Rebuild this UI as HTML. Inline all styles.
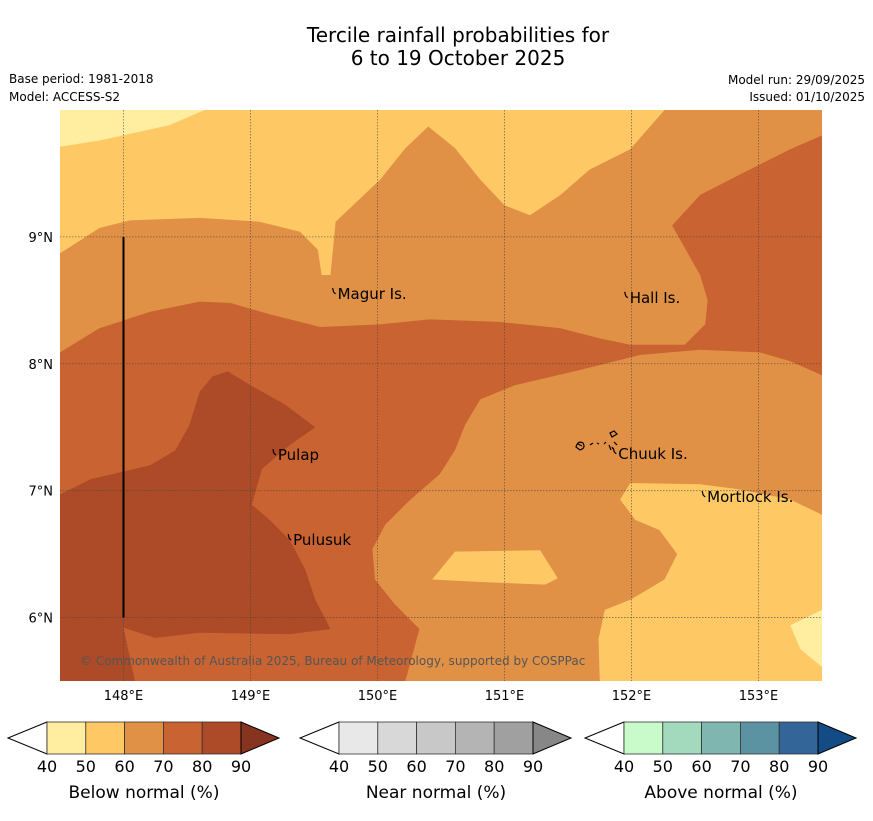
<!DOCTYPE html>
<html><head><meta charset="utf-8"><style>
body{margin:0;background:#fff;width:873px;height:816px;overflow:hidden;font-family:"Liberation Sans","DejaVu Sans",sans-serif}
</style></head><body>
<svg id="s" width="873" height="816" xmlns="http://www.w3.org/2000/svg" font-family="DejaVu Sans, Liberation Sans, sans-serif">
<text x="458" y="42" text-anchor="middle" font-size="20">Tercile rainfall probabilities for</text>
<text x="458" y="65" text-anchor="middle" font-size="20">6 to 19 October 2025</text>
<text x="9" y="83" font-size="12">Base period: 1981-2018</text>
<text x="9" y="101" font-size="12">Model: ACCESS-S2</text>
<text x="865" y="84" font-size="12" text-anchor="end">Model run: 29/09/2025</text>
<text x="865" y="101" font-size="12" text-anchor="end">Issued: 01/10/2025</text>
<defs><clipPath id="mc"><rect x="60" y="110" width="762" height="571"/></clipPath></defs>
<g id="map" clip-path="url(#mc)"></g>
<g id="cbars"></g>
</svg>
<script>
const NS="http://www.w3.org/2000/svg";
const lonMin=147.5,lonMax=153.5,latMin=5.5,latMax=10.0;
const X0=60,X1=822,Y0=110,Y1=681;
function xs(lon){return X0+(lon-lonMin)/(lonMax-lonMin)*(X1-X0);}
function ys(lat){return Y1-(lat-latMin)/(latMax-latMin)*(Y1-Y0);}
const levelColors=["#ffeda0","#fec965","#e09146","#c96331","#ad4a27"];
const yellowBaseLon=[147.5,153.5,153.5,147.5];
const yellowBaseLat=[10,10,5.5,5.5];
const light1Lon=[147.5,148.64,148.36,147.81,147.5];
const light1Lat=[10,10,9.88,9.76,9.71];
const orangeLon=[147.5,147.81,148.05,148.6,149.07,149.39,149.53,149.56,149.63,149.67,150.02,150.22,150.4,150.61,150.81,151.0,151.2,151.44,151.67,151.99,152.26,153.5,153.5,153.25,152.85,152.54,151.99,151.91,152.03,152.22,152.36,152.26,151.99,151.79,151.74,151.75,147.5];
const orangeLat=[8.87,9.07,9.13,9.15,9.12,9.04,8.9,8.7,8.7,9.12,9.45,9.7,9.87,9.7,9.45,9.25,9.17,9.33,9.53,9.69,10.0,10.0,6.81,6.93,7.01,7.05,7.06,6.93,6.77,6.69,6.5,6.3,6.14,6.06,5.83,5.5,5.5];
const yellowBlobLon=[150.43,150.61,151.28,151.42,151.32,150.81];
const yellowBlobLat=[6.30,6.52,6.53,6.31,6.26,6.28];
const light2Lon=[153.5,153.25,153.33,153.5];
const light2Lat=[6.06,5.94,5.75,5.61];
const darkLon=[147.5,147.81,148.21,148.6,148.84,149.15,149.55,150.02,150.41,150.96,151.44,151.75,151.99,152.42,152.58,152.6,152.54,152.32,152.54,152.85,153.25,153.5,153.5,153.25,153.01,152.54,152.07,151.59,151.08,150.81,150.69,150.61,150.49,150.26,150.06,149.96,149.98,150.14,150.33,150.22,147.5];
const darkLat=[8.09,8.28,8.41,8.49,8.48,8.39,8.29,8.31,8.35,8.33,8.28,8.2,8.15,8.15,8.31,8.5,8.7,9.09,9.33,9.49,9.69,9.8,7.91,8.02,8.09,8.11,8.07,7.95,7.83,7.72,7.52,7.32,7.13,6.93,6.73,6.54,6.3,6.1,5.91,5.5,5.5];
const brownLon=[147.5,147.74,148.21,148.41,148.52,148.6,148.7,148.82,149.0,149.27,149.51,149.31,149.09,149.01,149.15,149.31,149.43,149.51,149.63,149.31,148.6,148.25,148.0,148.09,147.5];
const brownLat=[6.97,7.09,7.2,7.32,7.52,7.78,7.9,7.94,7.83,7.68,7.5,7.36,7.17,6.89,6.77,6.61,6.38,6.14,5.91,5.87,5.88,5.84,5.92,5.5,5.5];
const regions=[["yellow-base",1,yellowBaseLon,yellowBaseLat],["lightest-nw",0,light1Lon,light1Lat],["orange-region",2,orangeLon,orangeLat],["yellow-blob",1,yellowBlobLon,yellowBlobLat],["lightest-se",0,light2Lon,light2Lat],["dark-orange-region",3,darkLon,darkLat],["brown-region",4,brownLon,brownLat]];
const lonTicks=[148,149,150,151,152,153];
const latTicks=[6,7,8,9];
const islandNames=["Magur Is.","Hall Is.","Pulap","Chuuk Is.","Mortlock Is.","Pulusuk"];
const islandLon=[149.67,151.97,149.2,151.88,152.58,149.32];
const islandLat=[8.55,8.52,7.28,7.29,6.95,6.61];
const map=document.getElementById('map');
function mk(t,a,p){const e=document.createElementNS(NS,t);for(const k in a)e.setAttribute(k,a[k]);(p||map).appendChild(e);return e;}
regions.forEach(r=>{
  const pts=r[2].map((lo,i)=>xs(lo).toFixed(1)+","+ys(r[3][i]).toFixed(1)).join(" ");
  const e=mk('polygon',{points:pts,fill:levelColors[r[1]]});
  
  
});
const svg=document.getElementById('s');
lonTicks.forEach(l=>{
  const e=mk('line',{x1:xs(l),x2:xs(l),y1:Y0,y2:Y1,stroke:'#444','stroke-width':0.8,'stroke-dasharray':'1.5,1.5',opacity:0.7});
  
  
  const t=mk('text',{x:xs(l),y:700,'text-anchor':'middle','font-size':13},svg);t.textContent=l+"°E";
  
  
});
latTicks.forEach(l=>{
  const e=mk('line',{x1:X0,x2:X1,y1:ys(l),y2:ys(l),stroke:'#444','stroke-width':0.8,'stroke-dasharray':'1.5,1.5',opacity:0.7});
  
  
  const t=mk('text',{x:53,y:ys(l)+5,'text-anchor':'end','font-size':13},svg);t.textContent=l+"°N";
  
  
});
const vl=mk('line',{x1:xs(148),x2:xs(148),y1:ys(9),y2:ys(6),stroke:'#000','stroke-width':2});


islandNames.forEach((n,i)=>{
  const x=xs(islandLon[i]),y=ys(islandLat[i]);
  const m=mk('path',{d:`M${x-3},${y-6} l1,4 l2,2`,stroke:'#000','stroke-width':1.2,fill:'none'});
  
  
  const t=mk('text',{x:x+2,y:y+5,'font-size':15});t.textContent=n;
  
  
});
const ch=mk('g',{stroke:'#000','stroke-width':1.2,fill:'none'});


mk('path',{d:'M576,447 q2,-7 7,-4 q3,5 -3,7 z M578,444 l4,2 M590,445 l3,-2 M597,443 l2,1 M604,444 l2,-2 M610,433 l4,-2 l3,3 l-5,3 z M609,445 l2,5 M614,442 l3,3 M612,447 l1,2'},ch);
const cr=mk('text',{x:80,y:665,'font-size':12,fill:'#555'});cr.textContent="© Commonwealth of Australia 2025, Bureau of Meteorology, supported by COSPPac";


const cbTitles=["Below normal (%)","Near normal (%)","Above normal (%)"];
const cbColors=[["#fff","#ffeda0","#fec965","#e09146","#c96331","#ad4a27","#86331f"],["#fff","#e8e8e8","#d8d8d8","#c8c8c8","#b4b4b4","#a0a0a0","#878787"],["#fff","#c9fbca","#a3d9bd","#80b6b0","#5c93a2","#336598","#134c84"]];
const cbTicks=[40,50,60,70,80,90];
const cbX=[47,339,624];
const cbg=document.getElementById('cbars');
cbX.forEach((bx,k)=>{
  const w=194/5,y0=722,y1=754,ym=738;
  const g=mk('g',{},cbg);
  
  
  mk('polygon',{points:`${bx},${y0} ${bx-39},${ym} ${bx},${y1}`,fill:cbColors[k][0],stroke:'#000','stroke-width':1},g);
  for(let i=0;i<5;i++){mk('rect',{x:bx+i*w,y:y0,width:w,height:y1-y0,fill:cbColors[k][i+1],stroke:'#333','stroke-width':0.8},g);}
  mk('polygon',{points:`${bx+194},${y0} ${bx+232},${ym} ${bx+194},${y1}`,fill:cbColors[k][6],stroke:'#000','stroke-width':1},g);
  cbTicks.forEach((t,i)=>{const e=mk('text',{x:bx+i*w,y:772,'text-anchor':'middle','font-size':16},g);e.textContent=t;});
  const tt=mk('text',{x:bx+97,y:798,'text-anchor':'middle','font-size':17},g);tt.textContent=cbTitles[k];
  
  
});
</script>
</body></html>
